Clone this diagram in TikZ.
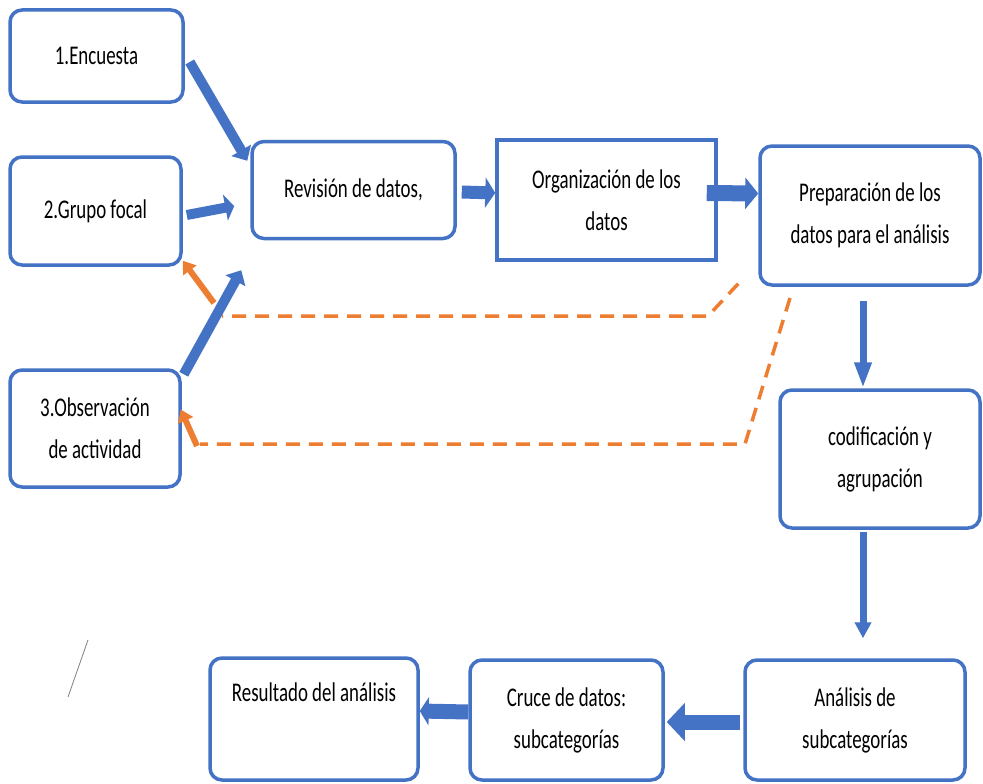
\documentclass[tikz,border=0pt]{standalone}
\usepackage{fontspec}
\usepackage{graphicx}
\setmainfont{Carlito}
\newcommand{\sqz}[1]{\scalebox{0.7}[1]{#1}}
\usetikzlibrary{arrows.meta,calc}
\definecolor{bl}{HTML}{4472C4}
\definecolor{orn}{HTML}{ED7D31}
\begin{document}
\begin{tikzpicture}[x=1pt,y=-1pt,
  box/.style={draw=bl, line width=3.5pt, rounded corners=12pt, fill=white, align=center,
    font=\fontsize{27}{42}\selectfont, inner sep=0pt},
  sqbox/.style={box, sharp corners},
  barrow/.style n args={3}{draw=bl, line width=#1, line cap=butt, -{Triangle[width=#2,length=#3]}},
  oarrow/.style={draw=orn, line width=6pt, line cap=butt, -{Triangle[length=12pt,width=16pt]}},
  odash/.style={draw=orn, line width=3.5pt, dash pattern=on 14pt off 9pt}
]
\useasboundingbox[fill=white] (0,0) rectangle (983,784);

\node[box, minimum width=173pt, minimum height=92pt] (enc) at (96.5,56) {\sqz{1.Encuesta}};
\node[box, minimum width=171pt, minimum height=108pt] (gru) at (95.5,211) {\sqz{2.Grupo focal}};
\node[box, minimum width=170pt, minimum height=117pt] (obs) at (95,428.5) {\sqz{3.Observación}\\\sqz{de actividad}};
\node[box, minimum width=203pt, minimum height=97pt] (rev) at (353.5,190) {\sqz{Revisión de datos,}};
\node[sqbox, minimum width=219pt, minimum height=120pt] (org) at (606.5,200) {\sqz{Organización de los}\\\sqz{datos}};
\node[box, minimum width=220pt, minimum height=139pt] (pre) at (870,215.5) {\sqz{Preparación de los}\\\sqz{datos para el análisis}};
\node[box, minimum width=200pt, minimum height=138pt] (cod) at (880,459) {\sqz{codificación y}\\\sqz{agrupación}};
\node[box, minimum width=220pt, minimum height=120pt] (ana) at (855,720) {\sqz{Análisis de}\\\sqz{subcategorías}};
\node[box, minimum width=193pt, minimum height=120pt] (cru) at (566.5,720) {\sqz{Cruce de datos:}\\\sqz{subcategorías}};
\node[box, minimum width=208pt, minimum height=122pt] (res) at (314,719) {\sqz{Resultado del análisis}\\\strut};

% blue flow arrows
\draw[barrow={10pt}{22pt}{12pt}] ($(enc.east)+(5,6)$) -- ($(rev.north west)+(-3,21)$);
\draw[barrow={10pt}{26pt}{9pt}] ($(gru.east)+(4,4)$) -- ($(rev.west)+(-16,16)$);
\draw[barrow={10pt}{22pt}{12pt}] ($(obs.north east)+(2,6)$) -- ($(rev.south west)+(-9,30)$);
\draw[barrow={13pt}{30pt}{10pt}] ($(rev.east)+(5,2)$) -- ($(org.west)+(0,-7)$);
\draw[barrow={16pt}{31pt}{13pt}] ($(org.east)+(-11,-7)$) -- ($(pre.west)+(0,-22)$);
\draw[barrow={7pt}{16pt}{26pt}] ($(pre.south)+(-7,14)$) -- ($(cod.north)+(-17,0)$);
\draw[barrow={7pt}{16pt}{16pt}] ($(cod.south)+(-17,2)$) -- ($(ana.north)+(8,-20)$);
\draw[barrow={15pt}{37pt}{18pt}] ($(ana.west)+(-3,2)$) -- ($(cru.east)+(2,2)$);
\draw[barrow={15pt}{28pt}{9pt}] ($(cru.west)+(0,-8)$) -- ($(res.east)+(0,-8)$);

% orange feedback paths
\coordinate (p1a) at ($(pre.south west)+(-20,-3)$);
\coordinate (p1b) at (708,316);
\coordinate (p1c) at (222,316);
\draw[odash] (p1a) -- (p1b) -- (p1c);
\coordinate (p1d) at (214,303);
\draw[oarrow] (p1d) -- ($(gru.south east)+(0,-6)$);

\coordinate (p2a) at (790,298);
\coordinate (p2b) at (745,444);
\coordinate (p2c) at (200,444);
\draw[odash] (p2a) -- (p2b) -- (p2c);
\coordinate (p2d) at (197,446);
\draw[oarrow] (p2d) -- ($(obs.east)+(-1,-19)$);

% stray mark
\coordinate (s1) at (88,640);
\coordinate (s2) at (68,697);
\draw[gray, line width=0.8pt] (s1) -- (s2);
\end{tikzpicture}
\end{document}
